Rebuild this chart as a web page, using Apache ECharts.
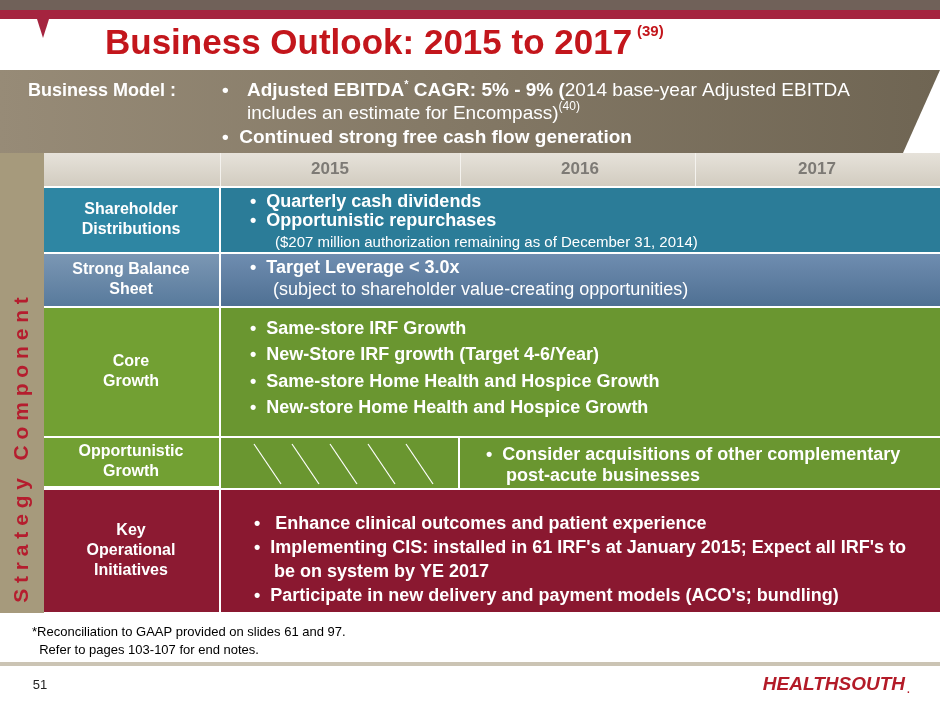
<!DOCTYPE html>
<html><head><meta charset="utf-8">
<script src="https://cdn.jsdelivr.net/npm/echarts@6/dist/echarts.min.js"></script>
<style>html,body{margin:0;padding:0;background:#fff}#c{width:940px;height:705px}</style>
</head><body><div id="c"></div>
<script>
const years = ['2015', '2016', '2017'];
const rowLabels = ['Shareholder\nDistributions', 'Strong Balance\nSheet', 'Core\nGrowth', 'Opportunistic\nGrowth', 'Key\nOperational\nInitiatives'];
const distItems = ['•  Quarterly cash dividends', '•  Opportunistic repurchases'];
const distNote = '($207 million authorization remaining as of December 31, 2014)';
const balanceItem = '•  Target Leverage < 3.0x';
const balanceNote = '(subject to shareholder value-creating opportunities)';
const coreItems = ['•  Same-store IRF Growth', '•  New-Store IRF growth (Target 4-6/Year)', '•  Same-store Home Health and Hospice Growth', '•  New-store Home Health and Hospice Growth'];
const oppItems = ['•  Consider acquisitions of other complementary', '    post-acute businesses'];
const keyItems = ['•   Enhance clinical outcomes and patient experience', '•  Implementing CIS: installed in 61 IRF\'s at January 2015; Expect all IRF\'s to', '    be on system by YE 2017', '•  Participate in new delivery and payment models (ACO\'s; bundling)'];
const footnotes = ['*Reconciliation to GAAP provided on slides 61 and 97.', '  Refer to pages 103-107 for end notes.'];

const F = 'Liberation Sans, Arial, sans-serif';
const W = '#fff';
const rect = (x, y, w, h, fill) => ({ type: 'rect', shape: { x, y, width: w, height: h }, style: { fill } });
const txt = (x, y, text, o = {}) => ({ type: 'text', x, y, style: Object.assign({ text, fill: W, font: `bold 18px ${F}`, textVerticalAlign: 'middle' }, o) });
const grad = (a, b) => new echarts.graphic.LinearGradient(0, 0, 0, 1, [{ offset: 0, color: a }, { offset: 1, color: b }]);

const g = [];
g.push(rect(0, 0, 940, 10, '#706159'), rect(0, 10, 940, 9, '#a5243f'));
g.push({ type: 'polygon', shape: { points: [[37, 19], [49, 19], [43, 38]] }, style: { fill: '#a5243f' } });
g.push(txt(105, 44, 'Business Outlook: 2015 to 2017', { fill: '#c3161c', font: `bold 35px ${F}` }));
g.push(txt(637, 32, '(39)', { fill: '#c3161c', font: `bold 15px ${F}` }));
// business model band
g.push({ type: 'polygon', shape: { points: [[0, 70], [940, 70], [903, 153], [0, 153]] },
  style: { fill: new echarts.graphic.LinearGradient(0, 0, 1, 0, [{ offset: 0, color: '#978b77' }, { offset: 1, color: '#6f6553' }]) } });
g.push(txt(28, 91, 'Business Model :', { font: `bold 18px ${F}` }));
g.push(txt(222, 91, '•', { font: `bold 19px ${F}` }));
g.push({ type: 'text', x: 247, y: 91, style: {
  text: '{b|Adjusted EBITDA}{s|*}{b| CAGR: 5% - 9% (}{n|2014 base-year Adjusted EBITDA}',
  textVerticalAlign: 'middle', fill: W,
  rich: { b: { font: `bold 19px ${F}`, fill: W }, n: { font: `19px ${F}`, fill: W }, s: { font: `bold 11px ${F}`, fill: W, verticalAlign: 'top', padding: [0, 0, 12, 0] } } } });
g.push({ type: 'text', x: 247, y: 114, style: {
  text: '{n|includes an estimate for Encompass)}{s|(40)}', textVerticalAlign: 'middle', fill: W,
  rich: { n: { font: `19px ${F}`, fill: W }, s: { font: `12px ${F}`, fill: W, padding: [0, 0, 14, 0] } } } });
g.push(txt(222, 138, '•  Continued strong free cash flow generation', { font: `bold 19px ${F}` }));
// left strip
g.push(rect(0, 153, 44, 460, '#a69a7c'));
g.push({ type: 'text', x: 22, y: 450, rotation: Math.PI / 2,
  style: { text: 'S t r a t e g y   C o m p o n e n t', fill: '#b51d2e', font: `bold 21px ${F}`, textAlign: 'center', textVerticalAlign: 'middle' } });
// header
g.push(rect(44, 153, 896, 33, grad('#e6e2da', '#d2ccc0')));
[220, 460, 695].forEach(x => g.push(rect(x, 153, 1, 33, '#f4f2ee')));
[330, 580, 817].forEach((x, i) => g.push(txt(x, 169, years[i], { fill: '#7d7a75', font: `bold 17px ${F}`, textAlign: 'center' })));
// rows
const rows = [
  [188, 64, '#2e86a3', '#2b7c98'],
  [254, 52, grad('#7b97b4', '#587a9c'), grad('#6f8db0', '#4f7093')],
  [308, 128, '#72a033', '#6a9630'],
  [438, 50, '#72a033', '#6a9630'],
  [490, 122, '#8c1a32', '#8a1830']
];
rows.forEach(([y, h, c1, c2], i) => {
  const lh = i === 3 ? h - 2 : h;
  g.push(rect(44, y, 175, lh, c1));
  if (i !== 3) g.push(rect(221, y, 719, h, c2));
  g.push(txt(131, y + lh / 2, rowLabels[i], { textAlign: 'center', lineHeight: 20, font: `bold 16px ${F}` }));
});
// opportunistic split
g.push(rect(221, 438, 237, 50, '#6a9630'));
g.push(rect(460, 438, 480, 50, '#6a9630'));
for (let k = 0; k < 5; k++) {
  const x0 = 254 + k * 38;
  g.push({ type: 'line', shape: { x1: x0, y1: 444, x2: x0 + 27, y2: 484 }, style: { stroke: '#ffffff', lineWidth: 1.2 } });
}
g.push(rect(219, 188, 2, 424, '#ffffff'));
// row texts
distItems.forEach((t, i) => g.push(txt(250, 202 + i * 19, t)));
g.push(txt(275, 243, distNote, { font: `15px ${F}` }));
g.push(txt(250, 268, balanceItem));
g.push(txt(273, 290, balanceNote, { font: `18px ${F}` }));
coreItems.forEach((t, i) => g.push(txt(250, 329 + i * 26.5, t)));
oppItems.forEach((t, i) => g.push(txt(486, 455 + i * 21, t)));
keyItems.forEach((t, i) => g.push(txt(254, 524 + i * 24, t)));
// footer
footnotes.forEach((t, i) => g.push(txt(32, 632 + i * 18, t, { fill: '#000', font: `13px ${F}` })));
g.push(rect(0, 662, 940, 4, '#cbc4b4'));
g.push(txt(40, 685, '51', { fill: '#222', font: `13px ${F}`, textAlign: 'center' }));
g.push(txt(905, 685, 'HEALTHSOUTH', { fill: '#b31b28', font: `italic bold 19px ${F}`, textAlign: 'right' }));
g.push(txt(907, 690, '.', { fill: '#b31b28', font: `bold 10px ${F}` }));

const chart = echarts.init(document.getElementById('c'));
chart.setOption({ animation: false, graphic: { elements: g } });
</script></body></html>
